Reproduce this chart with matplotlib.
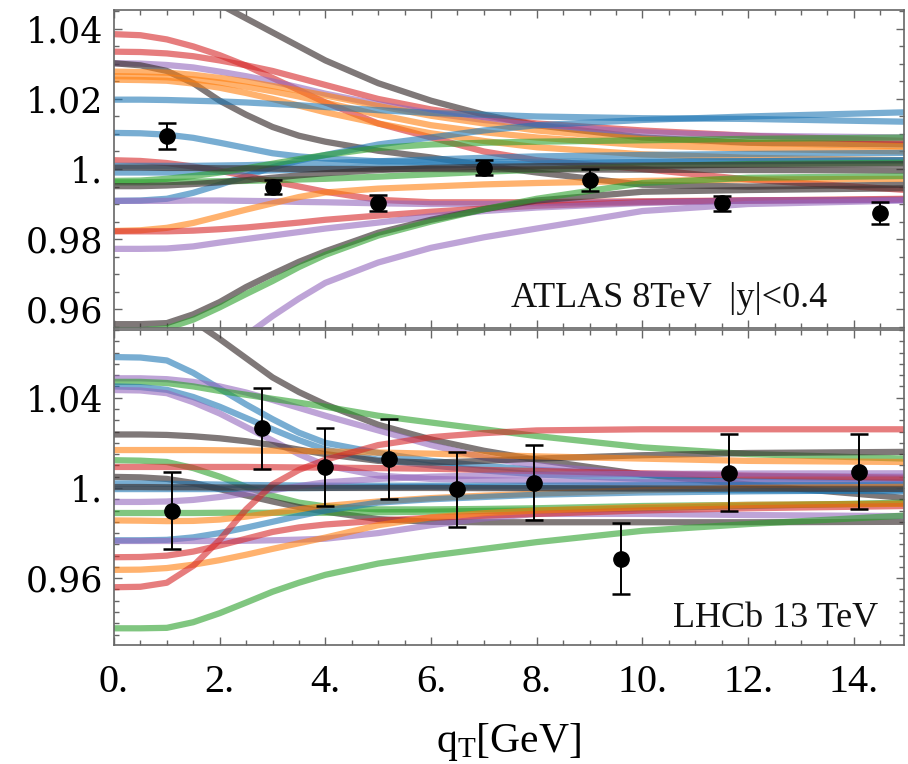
"""
Replica band vs. data, two panels: ATLAS 8 TeV |y|<0.4 and LHCb 13 TeV.
Ratio to central prediction as a function of q_T.
"""

import matplotlib
matplotlib.use("Agg")
import matplotlib.pyplot as plt
from matplotlib.ticker import FixedLocator, MultipleLocator, FuncFormatter

plt.rcParams['mathtext.fontset'] = 'custom'
plt.rcParams['mathtext.rm'] = 'Liberation Serif'
plt.rcParams['mathtext.it'] = 'Liberation Serif:italic'

# ---- data -----------------------------------------------------------------
# q_T knots at which each replica curve was read off
qt_knots = [0, 0.5, 1, 1.5, 2, 2.5, 3, 3.5, 4, 5, 6, 7, 8, 10, 12, 15]

# ATLAS 8 TeV, |y| < 0.4
atlas_qt = [1.0, 3.0, 5.0, 7.0, 9.0, 11.5, 14.5]
atlas_ratio = [1.0094, 0.9949, 0.9902, 1.0004, 0.9969, 0.9902, 0.9874]
atlas_err = [0.0038, 0.0021, 0.0023, 0.0021, 0.0031, 0.0022, 0.0031]

atlas_replica_colors = ['k', 'r', 'r', 'p', 'k', 'o', 'o', 'o', 'b', 'b', 'b', 'r',
                        'b', 'b', 'g', 'g', 'k', 'p', 'o', 'r', 'p', 'k', 'g', 'p', 'k']
atlas_replicas = [
    [1.062, 1.0605, 1.056, 1.052, 1.047, 1.043, 1.039, 1.035, 1.031, 1.0245, 1.0195, 1.0155, 1.0125, 1.009, 1.0075, 1.007],
    [1.0385, 1.0382, 1.037, 1.035, 1.0325, 1.0295, 1.026, 1.0225, 1.019, 1.013, 1.009, 1.005, 1.0025, 1.0, 0.997, 0.994],
    [1.0335, 1.0334, 1.033, 1.0322, 1.031, 1.0296, 1.028, 1.026, 1.024, 1.020, 1.017, 1.0148, 1.013, 1.011, 1.0095, 1.008],
    [1.0302, 1.0301, 1.0297, 1.029, 1.0278, 1.0265, 1.025, 1.0233, 1.0215, 1.0185, 1.016, 1.014, 1.0125, 1.0105, 1.0095, 1.009],
    [1.0302, 1.0296, 1.028, 1.0245, 1.0195, 1.0155, 1.012, 1.0095, 1.0078, 1.0052, 1.0033, 1.001, 0.999, 0.9955, 0.995, 0.9955],
    [1.0278, 1.0277, 1.0275, 1.0269, 1.026, 1.025, 1.0237, 1.0224, 1.021, 1.018, 1.0152, 1.013, 1.011, 1.0085, 1.0075, 1.0065],
    [1.0265, 1.0264, 1.0262, 1.0256, 1.0247, 1.0235, 1.0222, 1.0207, 1.019, 1.0155, 1.0125, 1.0105, 1.009, 1.0068, 1.0058, 1.005],
    [1.0255, 1.0254, 1.0252, 1.0244, 1.0232, 1.0217, 1.020, 1.0181, 1.0162, 1.013, 1.0102, 1.008, 1.0062, 1.0042, 1.0032, 1.0025],
    [1.0198, 1.0198, 1.0197, 1.0195, 1.0193, 1.019, 1.0186, 1.0182, 1.0177, 1.0168, 1.016, 1.0155, 1.015, 1.0145, 1.0143, 1.0135],
    [0.9909, 0.991, 0.9915, 0.9932, 0.9955, 0.998, 1.0005, 1.0024, 1.004, 1.007, 1.009, 1.011, 1.0125, 1.014, 1.015, 1.0162],
    [1.0103, 1.0102, 1.0098, 1.0089, 1.0075, 1.006, 1.0045, 1.0036, 1.003, 1.0022, 1.002, 1.002, 1.002, 1.0022, 1.0023, 1.0025],
    [1.0025, 1.0023, 1.0017, 1.0007, 0.9995, 0.998, 0.9965, 0.995, 0.9935, 0.9912, 0.9905, 0.9905, 0.9905, 0.9908, 0.991, 0.9912],
    [1.0009, 1.0009, 1.0009, 1.0009, 1.001, 1.0011, 1.0013, 1.0015, 1.0017, 1.0022, 1.0027, 1.0032, 1.0036, 1.004, 1.0043, 1.0046],
    [0.999, 0.999, 0.999, 0.9991, 0.9992, 0.9994, 0.9996, 0.9998, 1.0, 1.0005, 1.001, 1.0013, 1.0016, 1.002, 1.0022, 1.0025],
    [0.9966, 0.9967, 0.9972, 0.998, 0.999, 1.0002, 1.0015, 1.0028, 1.004, 1.006, 1.007, 1.0075, 1.0078, 1.0082, 1.0086, 1.009],
    [0.9962, 0.9962, 0.9963, 0.9964, 0.9965, 0.9966, 0.9968, 0.997, 0.9972, 0.9978, 0.9985, 0.9992, 0.9998, 1.0008, 1.0014, 1.0018],
    [0.9951, 0.9951, 0.9953, 0.9957, 0.9962, 0.9968, 0.9975, 0.9982, 0.9988, 0.9997, 1.0003, 1.0006, 1.0008, 1.001, 1.0012, 1.0014],
    [0.9909, 0.9909, 0.9909, 0.991, 0.991, 0.9909, 0.9908, 0.9906, 0.9905, 0.9902, 0.990, 0.990, 0.9902, 0.9906, 0.991, 0.9912],
    [0.9823, 0.9825, 0.9832, 0.9846, 0.9865, 0.9884, 0.9902, 0.992, 0.9933, 0.9944, 0.995, 0.9956, 0.996, 0.9966, 0.997, 0.9972],
    [0.9822, 0.9822, 0.9822, 0.9824, 0.9828, 0.9833, 0.984, 0.9847, 0.9855, 0.9867, 0.9878, 0.9887, 0.9895, 0.9905, 0.991, 0.9915],
    [0.9772, 0.9772, 0.9773, 0.9779, 0.979, 0.980, 0.981, 0.982, 0.983, 0.9847, 0.9865, 0.988, 0.989, 0.9903, 0.991, 0.9912],
    [0.9557, 0.9557, 0.956, 0.9585, 0.962, 0.9663, 0.970, 0.9735, 0.9765, 0.9818, 0.9855, 0.9885, 0.991, 0.9935, 0.994, 0.9945],
    [0.954, 0.954, 0.9545, 0.957, 0.9605, 0.9643, 0.968, 0.972, 0.9755, 0.981, 0.985, 0.9885, 0.9915, 0.996, 0.9975, 0.998],
    [0.935, 0.936, 0.939, 0.9425, 0.947, 0.9525, 0.958, 0.963, 0.9675, 0.9733, 0.9775, 0.9805, 0.983, 0.988, 0.990, 0.991],
    [1.0004, 1.0004, 1.0003, 1.0003, 1.0002, 1.0002, 1.0001, 1.0, 1.0, 1.0, 1.0, 0.9999, 0.9999, 0.9998, 0.9997, 0.9996],
]

# LHCb 13 TeV
lhcb_qt = [1.1, 2.8, 4.0, 5.2, 6.5, 7.95, 9.6, 11.63, 14.1]
lhcb_ratio = [0.990, 1.0264, 1.0093, 1.0129, 0.9994, 1.0024, 0.9686, 1.0068, 1.0071]
lhcb_err = [0.0172, 0.0178, 0.0172, 0.0176, 0.0165, 0.0167, 0.0157, 0.0172, 0.0166]

lhcb_replica_colors = ['k', 'b', 'p', 'g', 'b', 'p', 'k', 'o', 'g', 'r', 'k', 'b',
                       'b', 'p', 'g', 'o', 'b', 'p', 'r', 'o', 'r', 'g', 'k']
lhcb_replicas = [
    [1.095, 1.0895, 1.082, 1.074, 1.066, 1.0575, 1.049, 1.0425, 1.037, 1.028, 1.0215, 1.0165, 1.0125, 1.006, 1.0015, 0.9955],
    [1.058, 1.0578, 1.0565, 1.051, 1.044, 1.037, 1.0305, 1.0245, 1.020, 1.0155, 1.012, 1.0098, 1.008, 1.006, 1.005, 1.004],
    [1.0486, 1.0486, 1.0482, 1.047, 1.045, 1.0423, 1.039, 1.0355, 1.032, 1.0255, 1.019, 1.0135, 1.010, 1.006, 1.0052, 1.005],
    [1.047, 1.047, 1.0465, 1.045, 1.043, 1.0413, 1.0395, 1.0378, 1.036, 1.032, 1.029, 1.026, 1.023, 1.018, 1.015, 1.013],
    [1.045, 1.0447, 1.0435, 1.0403, 1.036, 1.031, 1.026, 1.0212, 1.017, 1.0125, 1.010, 1.0078, 1.006, 1.004, 1.003, 1.0025],
    [1.0434, 1.0432, 1.042, 1.038, 1.033, 1.027, 1.021, 1.015, 1.010, 1.0055, 1.004, 1.0035, 1.003, 1.0025, 1.0025, 1.0025],
    [1.0237, 1.0237, 1.0235, 1.0229, 1.022, 1.0207, 1.019, 1.017, 1.015, 1.012, 1.0112, 1.012, 1.013, 1.0145, 1.0155, 1.016],
    [1.0168, 1.0168, 1.0168, 1.0168, 1.0167, 1.0166, 1.0165, 1.0164, 1.0162, 1.0157, 1.0152, 1.0146, 1.014, 1.013, 1.012, 1.0115],
    [1.0123, 1.0121, 1.0115, 1.0088, 1.005, 1.0005, 0.9965, 0.9935, 0.9918, 0.9905, 0.9905, 0.9907, 0.991, 0.992, 0.9925, 0.993],
    [1.0093, 1.0093, 1.0093, 1.0093, 1.0093, 1.0093, 1.0092, 1.0091, 1.009, 1.0088, 1.0085, 1.008, 1.0075, 1.0065, 1.0055, 1.0045],
    [1.0049, 1.0047, 1.004, 1.0022, 0.9995, 0.9967, 0.994, 0.9915, 0.9895, 0.9862, 0.985, 0.9848, 0.9848, 0.9848, 0.9848, 0.985],
    [1.002, 1.002, 1.0018, 1.0017, 1.0015, 1.0013, 1.0012, 1.0011, 1.001, 1.001, 1.001, 1.001, 1.001, 1.0012, 1.0012, 1.0012],
    [0.9995, 0.9995, 0.9995, 0.9995, 0.9995, 0.9996, 0.9998, 0.9999, 1.0, 1.0003, 1.0005, 1.0003, 1.0, 0.9995, 0.999, 0.9985],
    [0.9938, 0.9938, 0.994, 0.9947, 0.996, 0.9975, 0.999, 1.0008, 1.0025, 1.004, 1.005, 1.0055, 1.0058, 1.0062, 1.0064, 1.0065],
    [0.9889, 0.9889, 0.9889, 0.9889, 0.989, 0.989, 0.989, 0.989, 0.989, 0.9892, 0.9895, 0.9898, 0.990, 0.991, 0.992, 0.9935],
    [0.9856, 0.9855, 0.9853, 0.9854, 0.986, 0.9873, 0.989, 0.9905, 0.992, 0.994, 0.9955, 0.9966, 0.9975, 0.999, 1.0, 1.0005],
    [0.9768, 0.9768, 0.977, 0.9781, 0.980, 0.9824, 0.985, 0.9876, 0.990, 0.9935, 0.995, 0.996, 0.997, 0.998, 0.9985, 0.999],
    [0.9765, 0.9765, 0.9765, 0.9765, 0.9765, 0.9766, 0.9768, 0.9771, 0.9775, 0.980, 0.9835, 0.9865, 0.9885, 0.9885, 0.988, 0.9875],
    [0.9693, 0.9694, 0.970, 0.9718, 0.9745, 0.9775, 0.9805, 0.9825, 0.9838, 0.9855, 0.9868, 0.9877, 0.9885, 0.990, 0.991, 0.992],
    [0.9637, 0.9638, 0.9645, 0.966, 0.968, 0.9704, 0.973, 0.9755, 0.978, 0.9835, 0.987, 0.9888, 0.990, 0.9915, 0.9925, 0.993],
    [0.956, 0.9562, 0.958, 0.9655, 0.977, 0.9905, 1.0015, 1.008, 1.0125, 1.019, 1.0225, 1.0243, 1.0255, 1.026, 1.026, 1.026],
    [0.9378, 0.9378, 0.938, 0.9405, 0.9445, 0.9492, 0.954, 0.958, 0.9615, 0.9665, 0.970, 0.973, 0.976, 0.981, 0.984, 0.9878],
    [1.0004, 1.0004, 1.0003, 1.0003, 1.0002, 1.0002, 1.0001, 1.0, 1.0, 1.0, 1.0, 0.9999, 0.9999, 0.9998, 0.9997, 0.9996],
]

x_tick_values = [0, 2, 4, 6, 8, 10, 12, 14]
atlas_y_ticks = [0.96, 0.98, 1.00, 1.02, 1.04]
lhcb_y_ticks = [0.96, 1.00, 1.04]

# ---- style ----------------------------------------------------------------
PALETTE = {'b': '#1f77b4', 'o': '#ff7f0e', 'g': '#2ca02c',
           'r': '#d62728', 'p': '#9467bd', 'k': '#3a3030'}
ALPHA = {'b': 0.6, 'o': 0.6, 'g': 0.6, 'r': 0.6, 'p': 0.6, 'k': 0.65}
FRAME = '#666666'
TICK_FONT_Y = dict(family='DejaVu Serif', size=25)
TICK_FONT_X = dict(family='Liberation Serif', size=29)
LABEL_FONT = dict(family='Liberation Serif', size=26)

W, H = 908, 764
fig = plt.figure(figsize=(W / 100, H / 100), dpi=100)
ax1 = fig.add_axes([114 / W, 1 - 328 / H, 790 / W, 318 / H])
ax2 = fig.add_axes([114 / W, 1 - 645 / H, 790 / W, 315 / H])


def ratio_label(v, pos):
    return f"{v:.2f}".rstrip('0')


def qt_label(v, pos):
    return f"{v:.0f}."


def style_panel(ax, y_ticks, ylim):
    ax.set_xlim(0, 14.95)
    ax.set_ylim(*ylim)
    for sp in ax.spines.values():
        sp.set_color(FRAME)
        sp.set_linewidth(1.2)
    ax.xaxis.set_major_locator(FixedLocator(x_tick_values))
    ax.xaxis.set_minor_locator(MultipleLocator(0.5))
    ax.yaxis.set_major_locator(FixedLocator(y_ticks))
    ax.yaxis.set_minor_locator(MultipleLocator(0.005))
    ax.yaxis.set_major_formatter(FuncFormatter(ratio_label))
    ax.xaxis.set_major_formatter(FuncFormatter(qt_label))
    ax.tick_params(which='both', direction='in', top=True, right=True,
                   color=FRAME, width=1.0)
    ax.tick_params(which='major', length=6)
    ax.tick_params(which='minor', length=3.5)
    ax.tick_params(axis='y', pad=8)
    for lab in ax.get_yticklabels():
        lab.set_fontfamily(TICK_FONT_Y['family'])
        lab.set_fontsize(TICK_FONT_Y['size'])


def draw_panel(ax, replicas, colors, qt, ratio, err):
    for vals, c in zip(replicas, colors):
        ax.plot(qt_knots, vals, color=PALETTE[c], alpha=ALPHA[c], lw=4.5,
                solid_joinstyle='round', solid_capstyle='butt', zorder=2)
    ax.errorbar(qt, ratio, yerr=err, fmt='o', color='black', ms=11,
                elinewidth=1.4, capsize=6.3, capthick=1.8, zorder=5)


draw_panel(ax1, atlas_replicas, atlas_replica_colors, atlas_qt, atlas_ratio, atlas_err)
draw_panel(ax2, lhcb_replicas, lhcb_replica_colors, lhcb_qt, lhcb_ratio, lhcb_err)

style_panel(ax1, atlas_y_ticks, (0.9546, 1.0454))
style_panel(ax2, lhcb_y_ticks, (0.9304, 1.0700))

ax1.tick_params(axis='x', labelbottom=False)
ax2.tick_params(axis='x', pad=14)
for lab in ax2.get_xticklabels():
    lab.set_fontfamily(TICK_FONT_X['family'])
    lab.set_fontsize(TICK_FONT_X['size'])

ax1.text(0.903, 0.066, "ATLAS 8TeV  |y|<0.4", transform=ax1.transAxes,
         ha='right', va='baseline', color='#111111', **LABEL_FONT)
ax2.text(0.967, 0.057, "LHCb 13 TeV", transform=ax2.transAxes,
         ha='right', va='baseline', color='#111111', **LABEL_FONT)

fig.text(509 / W, 1 - 742 / H, r"q$_{\mathrm{T}}$[GeV]", ha='center', va='center',
         family='Liberation Serif', size=30)

plt.savefig("out.png", dpi=100)
plt.close()
